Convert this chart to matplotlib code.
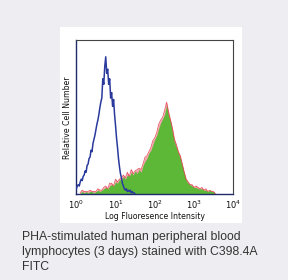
import matplotlib
matplotlib.use("Agg")
import matplotlib.pyplot as plt
from matplotlib.patches import Rectangle
import numpy as np

# --- data (log10 fluorescence, relative counts) ---
blue_log = [0.000, 0.025, 0.050, 0.075, 0.100, 0.125, 0.150, 0.175, 0.200, 0.225,
            0.250, 0.275, 0.300, 0.325, 0.350, 0.375, 0.400, 0.425, 0.450, 0.475,
            0.500, 0.525, 0.550, 0.575, 0.600, 0.625, 0.650, 0.675, 0.700, 0.725,
            0.750, 0.775, 0.800, 0.825, 0.850, 0.875, 0.900, 0.925, 0.950, 0.975,
            1.000, 1.025, 1.050, 1.075, 1.100, 1.125, 1.150, 1.175, 1.200, 1.225,
            1.250, 1.275, 1.300, 1.325, 1.350, 1.375, 1.400, 1.425, 1.450, 1.475,
            1.500]
blue_counts = [4, 6, 7, 6, 9, 11, 10, 13, 14, 17,
               16, 21, 22, 26, 27, 32, 31, 37, 40, 43,
               47, 51, 54, 58, 63, 67, 70, 84, 80, 93,
               100, 88, 91, 80, 84, 70, 74, 64, 69, 58,
               50, 41, 34, 26, 20, 15, 12, 8, 6, 4,
               3, 4, 2, 3, 2, 3, 1, 2, 1, 1,
               0]

green_log = [0.10, 0.15, 0.20, 0.25, 0.30, 0.35, 0.40, 0.45, 0.50, 0.55,
             0.60, 0.65, 0.70, 0.75, 0.80, 0.85, 0.90, 0.95, 1.00, 1.05,
             1.10, 1.15, 1.20, 1.25, 1.30, 1.35, 1.40, 1.45, 1.50, 1.55,
             1.60, 1.65, 1.70, 1.75, 1.80, 1.85, 1.90, 1.95, 2.00, 2.05,
             2.10, 2.15, 2.20, 2.25, 2.30, 2.35, 2.40, 2.45, 2.50, 2.55,
             2.60, 2.65, 2.70, 2.75, 2.80, 2.85, 2.90, 2.95, 3.00, 3.05,
             3.10, 3.15, 3.20, 3.25, 3.30, 3.35, 3.40, 3.45, 3.50, 3.55]
green_counts = [1, 2, 1, 2, 1, 2, 2, 1, 2, 3,
                2, 3, 4, 5, 4, 6, 7, 6, 9, 8,
                11, 10, 13, 11, 14, 13, 16, 14, 17, 15,
                18, 16, 21, 24, 26, 30, 32, 36, 40, 43,
                48, 52, 55, 58, 65, 57, 53, 45, 38, 34,
                30, 26, 21, 15, 10, 8, 7, 6, 5, 5,
                4, 4, 4, 3, 3, 2, 3, 2, 2, 0]
red_counts = [1, 3, 2, 2, 2, 3, 2, 2, 2, 4,
              3, 3, 5, 6, 4, 8, 8, 6, 11, 9,
              11, 12, 14, 12, 16, 13, 18, 15, 17, 18,
              19, 18, 22, 27, 28, 31, 34, 39, 41, 45,
              51, 54, 56, 61, 67, 60, 54, 48, 40, 36,
              31, 28, 22, 16, 11, 9, 7, 7, 5, 6,
              5, 4, 5, 3, 4, 2, 3, 2, 2, 0]

xtick_exps = [0, 1, 2, 3, 4]

fig = plt.figure(figsize=(2.88, 2.80), dpi=100)
fig.patch.set_facecolor("#EEEDF2")

# white panel behind the chart
bg = fig.add_axes([0, 0, 1, 1], zorder=-5)
bg.set_axis_off()
bg.set_xlim(0, 288)
bg.set_ylim(280, 0)
bg.add_patch(Rectangle((60, 27), 182, 196, facecolor="white", edgecolor="none"))

ax = fig.add_axes([76.3/288, 1-194.3/280, 157/288, 154/280], zorder=1)
ax.set_facecolor("white")

bx = 10 ** np.array(blue_log)
gx = 10 ** np.array(green_log)

ax.fill_between(gx, 0, red_counts, color="#F2A0A8", lw=0, zorder=1)
ax.fill_between(gx, 0, green_counts, color="#5DB838", lw=0, zorder=2)
ax.plot(gx, red_counts, color="#E03040", lw=0.6, alpha=0.8, zorder=3)
ax.plot(bx, blue_counts, color="#2A3A9C", lw=1.1, zorder=4)

ax.set_xscale("log")
ax.set_xlim(1, 1e4)
ax.set_ylim(0, 112)
ax.set_xticks([10.0 ** e for e in xtick_exps])
ax.set_xticklabels([r"$10^{%d}$" % e for e in xtick_exps])
ax.xaxis.set_minor_locator(matplotlib.ticker.NullLocator())
ax.set_yticks([])
ax.tick_params(axis="x", length=0, pad=3, labelsize=6, labelcolor="#111111")

for side in ["left", "bottom"]:
    ax.spines[side].set_color("#1F2A6B")
    ax.spines[side].set_linewidth(1.0)
for side in ["top", "right"]:
    ax.spines[side].set_color("#444444")
    ax.spines[side].set_linewidth(0.8)

ax.set_xlabel("Log Fluoresence Intensity", fontsize=5.6, color="#111111",
              labelpad=1, family="DejaVu Sans")
ax.set_ylabel("Relative Cell Number", fontsize=5.6, color="#111111",
              labelpad=3, family="DejaVu Sans")

caption = ["PHA-stimulated human peripheral blood",
           "lymphocytes (3 days) stained with C398.4A",
           "FITC"]
for i, line in enumerate(caption):
    fig.text(22/288, 1 - (237 + 15 * i)/280, line, fontsize=8.8,
             color="#333333", family="Liberation Sans", va="center", ha="left")

fig.savefig("out.png", dpi=100, facecolor=fig.get_facecolor())
